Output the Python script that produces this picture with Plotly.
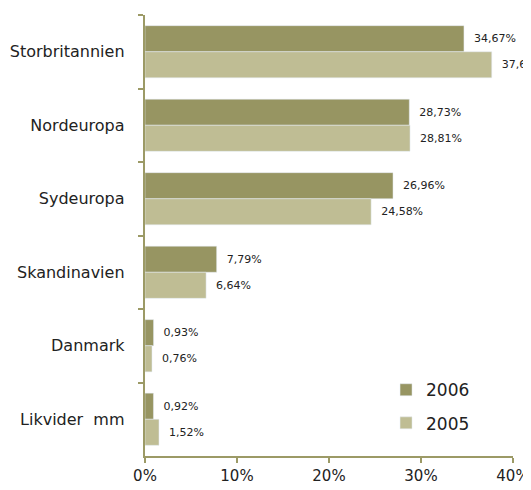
import plotly.graph_objects as go

regions = ["Storbritannien", "Nordeuropa", "Sydeuropa", "Skandinavien", "Danmark", "Likvider  mm"]
vals_2006 = [34.67, 28.73, 26.96, 7.79, 0.93, 0.92]
vals_2005 = [37.69, 28.81, 24.58, 6.64, 0.76, 1.52]
x_ticks = [0, 10, 20, 30, 40]


def pct(v):
    return ("  " + f"{v:.2f}%").replace(".", ",")


axis_col = "#9c9a66"
fig = go.Figure()
fig.add_trace(go.Bar(
    y=regions, x=vals_2006, orientation="h", name="2006", legendgroup="a",
    marker=dict(color="#979562"),
    text=[pct(v) for v in vals_2006], textposition="outside",
    textfont=dict(size=11, color="#222222"), cliponaxis=False,
))
fig.add_trace(go.Bar(
    y=regions, x=vals_2005, orientation="h", name="2005", legendgroup="b",
    marker=dict(color="#bfbd94"),
    text=[pct(v) for v in vals_2005], textposition="outside",
    textfont=dict(size=11, color="#222222"), cliponaxis=False,
))

# page body adds an 8px offset, so the figure is a bit smaller than the window
fig.update_layout(
    width=523, height=482,
    margin=dict(l=137, r=18, t=7, b=34),
    paper_bgcolor="white", plot_bgcolor="white",
    font=dict(family="DejaVu Sans, sans-serif", color="#222222"),
    barmode="group", bargap=0.29, bargroupgap=0,
    uniformtext=dict(minsize=11, mode="show"),
    legend=dict(x=0.655, y=0.19, xanchor="left", yanchor="top", traceorder="grouped",
                font=dict(size=17), bgcolor="rgba(0,0,0,0)", itemwidth=30,
                tracegroupgap=8),
    showlegend=True,
)
fig.update_xaxes(
    range=[0, 40], tickvals=x_ticks, ticktext=[f"{t}%" for t in x_ticks],
    showgrid=False, zeroline=False, showline=True, linecolor=axis_col, linewidth=2,
    ticks="outside", ticklen=5, tickcolor=axis_col, tickwidth=2,
    tickfont=dict(size=15), automargin=False,
)
fig.update_yaxes(
    autorange="reversed", showgrid=False, showline=True, linecolor=axis_col, linewidth=2,
    ticks="outside", ticklen=5, tickcolor=axis_col, tickwidth=2, tickson="boundaries",
    tickfont=dict(size=16), ticksuffix="   ", automargin=False,
)

fig.write_html("out.html")
